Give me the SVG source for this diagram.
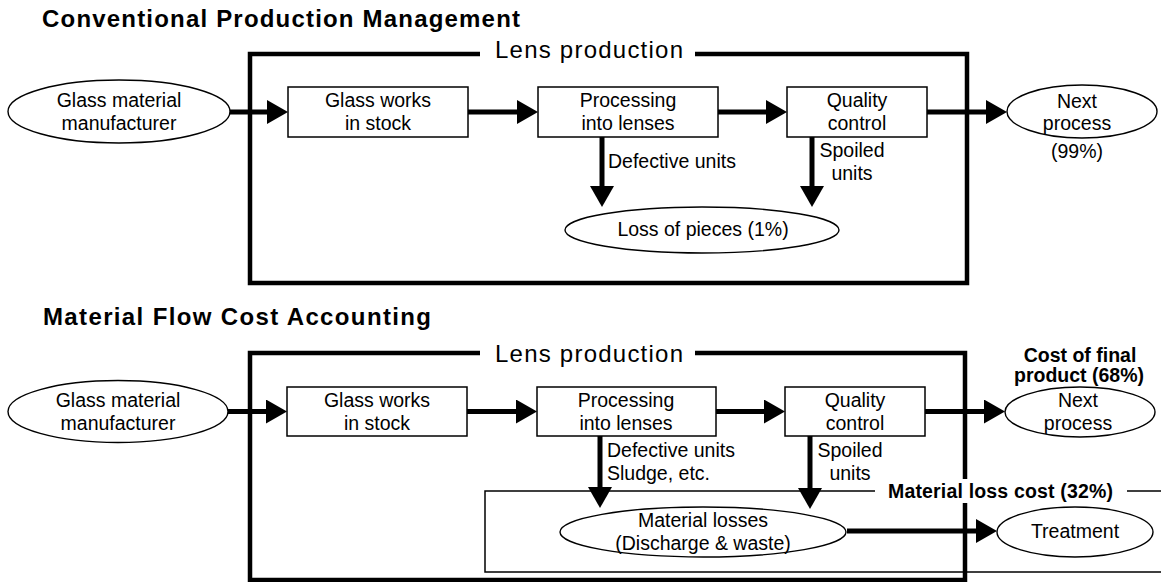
<svg xmlns="http://www.w3.org/2000/svg" width="1161" height="582" viewBox="0 0 1161 582">
<style>
text{font-family:"Liberation Sans",Arial,sans-serif;fill:#000}
.t{font-size:19.5px;text-anchor:middle}
.l{font-size:19.5px}
.b{font-weight:bold}
.h{font-size:24px;font-weight:bold}
.lp{font-size:24px}
.box{fill:#fff;stroke:#000;stroke-width:1.5}
.ell{fill:#fff;stroke:#000;stroke-width:1.4}
.frame{fill:none;stroke:#000;stroke-width:4.5}
.thin{fill:none;stroke:#000;stroke-width:1.5}
.arr{stroke:#000;stroke-width:5;fill:none;marker-end:url(#ah)}
</style>
<defs>
<marker id="ah" viewBox="0 0 21 24" refX="6" refY="12" markerWidth="21" markerHeight="24" markerUnits="userSpaceOnUse" orient="auto">
<path d="M0,0 L21,12 L0,24 Z" fill="#000"/>
</marker>
</defs>
<rect width="1161" height="582" fill="#fff"/>

<!-- Titles -->
<text class="h" x="42" y="27" textLength="478" lengthAdjust="spacing">Conventional Production Management</text>
<text class="h" x="43" y="325" textLength="388" lengthAdjust="spacing">Material Flow Cost Accounting</text>

<!-- Top frame -->
<g id="frame-top">
<path class="frame" d="M480,54 H250 V283 H967 V54 H695"/>
<text class="lp" x="495" y="58" textLength="188" lengthAdjust="spacing">Lens production</text>
</g>

<!-- Bottom frames -->
<g id="frame-bottom">
<path class="frame" d="M480,353 H250 V580 H965 V353 H695"/>
<text class="lp" x="495" y="362" textLength="188" lengthAdjust="spacing">Lens production</text>
</g>
<g id="loss-box">
<path class="thin" d="M875,491 H485 V572 H1170 M1127,491 H1170"/>
<rect x="882" y="479" width="238" height="24" fill="#fff"/>
<text class="l b" x="888" y="498" font-size="20" textLength="225" lengthAdjust="spacing">Material loss cost (32%)</text>
</g>

<!-- Connectors -->
<g id="connectors">
<line class="arr" x1="230" y1="112" x2="273" y2="112"/>
<line class="arr" x1="468" y1="112" x2="523" y2="112"/>
<line class="arr" x1="718" y1="112" x2="772" y2="112"/>
<line class="arr" x1="927" y1="112" x2="992" y2="112"/>
<line class="arr" x1="602" y1="137" x2="602" y2="192"/>
<line class="arr" x1="812" y1="137" x2="812" y2="192"/>

<line class="arr" x1="228" y1="411.5" x2="272" y2="411.5"/>
<line class="arr" x1="467" y1="411.5" x2="522" y2="411.5"/>
<line class="arr" x1="716" y1="411.5" x2="770" y2="411.5"/>
<line class="arr" x1="925" y1="411.5" x2="990" y2="411.5"/>
<line class="arr" x1="600" y1="436" x2="600" y2="493"/>
<line class="arr" x1="810" y1="436" x2="810" y2="494"/>
<line class="arr" x1="847" y1="531" x2="982" y2="531"/>
</g>

<!-- Edge labels -->
<g id="labels">
<text class="l" x="608" y="168">Defective units</text>
<text class="t" x="852" y="157">Spoiled</text>
<text class="t" x="852" y="180">units</text>
<text class="t" x="1077" y="158">(99%)</text>

<text class="l" x="607" y="457">Defective units</text>
<text class="l" x="607" y="480">Sludge, etc.</text>
<text class="t" x="850" y="457">Spoiled</text>
<text class="t" x="850" y="480">units</text>
<text class="t b" x="1080" y="362" font-size="19.5">Cost of final</text>
<text class="t b" x="1079" y="382" font-size="19.5">product (68%)</text>
</g>

<!-- Top nodes -->
<g id="n-glass-top">
<ellipse class="ell" cx="119" cy="111.5" rx="111" ry="31.5"/>
<text class="t" x="119" y="107">Glass material</text>
<text class="t" x="119" y="130">manufacturer</text>
</g>
<g id="n-stock-top">
<rect class="box" x="288" y="87" width="180" height="50"/>
<text class="t" x="378" y="107">Glass works</text>
<text class="t" x="378" y="130">in stock</text>
</g>
<g id="n-proc-top">
<rect class="box" x="538" y="87" width="180" height="50"/>
<text class="t" x="628" y="107">Processing</text>
<text class="t" x="628" y="130">into lenses</text>
</g>
<g id="n-qc-top">
<rect class="box" x="787" y="87" width="140" height="50"/>
<text class="t" x="857" y="107">Quality</text>
<text class="t" x="857" y="130">control</text>
</g>
<g id="n-next-top">
<ellipse class="ell" cx="1082" cy="111.5" rx="75" ry="26.5"/>
<text class="t" x="1077" y="108">Next</text>
<text class="t" x="1077" y="130">process</text>
</g>
<g id="n-loss-top">
<ellipse class="ell" cx="702" cy="230" rx="137" ry="23"/>
<text class="t" x="703" y="236">Loss of pieces (1%)</text>
</g>

<!-- Bottom nodes -->
<g id="n-glass-bot">
<ellipse class="ell" cx="118" cy="411.5" rx="110" ry="31"/>
<text class="t" x="118" y="407">Glass material</text>
<text class="t" x="118" y="430">manufacturer</text>
</g>
<g id="n-stock-bot">
<rect class="box" x="287" y="387" width="180" height="49"/>
<text class="t" x="377" y="407">Glass works</text>
<text class="t" x="377" y="430">in stock</text>
</g>
<g id="n-proc-bot">
<rect class="box" x="537" y="387" width="179" height="49"/>
<text class="t" x="626" y="407">Processing</text>
<text class="t" x="626" y="430">into lenses</text>
</g>
<g id="n-qc-bot">
<rect class="box" x="785" y="387" width="140" height="49"/>
<text class="t" x="855" y="407">Quality</text>
<text class="t" x="855" y="430">control</text>
</g>
<g id="n-next-bot">
<ellipse class="ell" cx="1080" cy="412" rx="75" ry="25"/>
<text class="t" x="1078" y="407">Next</text>
<text class="t" x="1078" y="430">process</text>
</g>
<g id="n-loss-bot">
<ellipse class="ell" cx="703" cy="532" rx="143" ry="25"/>
<text class="t" x="703" y="527">Material losses</text>
<text class="t" x="703" y="550">(Discharge &amp; waste)</text>
</g>
<g id="n-treat">
<ellipse class="ell" cx="1075" cy="532" rx="78" ry="25"/>
<text class="t" x="1075" y="538">Treatment</text>
</g>
</svg>
